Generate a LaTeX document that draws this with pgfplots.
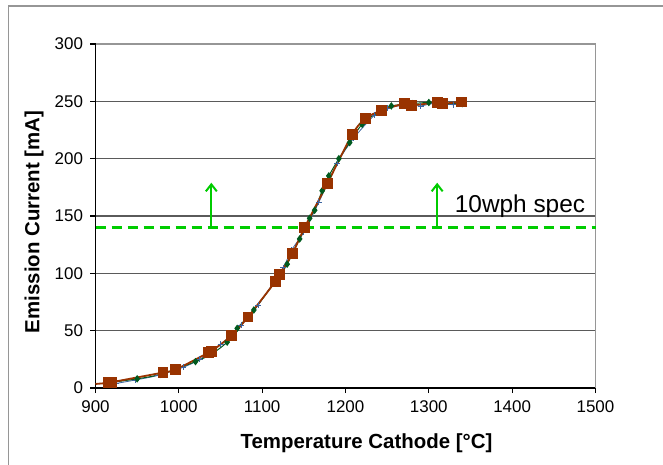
\documentclass[border=0pt]{standalone}
\usepackage{fontspec}
\setmainfont{Liberation Sans}
\usepackage{pgfplots}
\pgfplotsset{compat=1.18}
\usetikzlibrary{arrows.meta,calc}

\definecolor{brownline}{RGB}{153,51,0}
\definecolor{specgreen}{RGB}{0,204,0}
\definecolor{darkgreen}{RGB}{0,90,30}
\definecolor{steel}{RGB}{60,100,160}
\definecolor{gridgray}{RGB}{90,90,90}
\definecolor{framegray}{RGB}{150,150,150}

\begin{document}
\begin{tikzpicture}
\useasboundingbox (0,0) rectangle (663bp,465bp);
\draw[framegray, line width=1.2bp] (8.5bp,0) -- (8.5bp,459bp) -- (663bp,459bp);

\begin{axis}[
    at={(95.5bp,77bp)}, anchor=south west,
    scale only axis, width=500bp, height=344bp,
    xmin=900, xmax=1500, ymin=0, ymax=300,
    xtick={900,1000,...,1500}, ytick={0,50,...,300},
    axis x line*=bottom, axis y line*=left,
    axis line style={black, line width=1.5bp, -},
    tick align=outside, major tick length=5bp,
    tick style={black, line width=1.2bp},
    ymajorgrids, grid style={gridgray, line width=1.6bp},
    /pgf/number format/assume math mode=true,
    /pgf/number format/1000 sep={},
    ticklabel style={font=\fontsize{17}{20}\selectfont},
    xticklabel style={yshift=-4bp},
    yticklabel style={xshift=-4bp},
    xlabel={\textbf{Temperature Cathode [°C]}},
    xlabel style={font=\fontsize{20.5}{24}\selectfont, at={(axis description cs:0.542,0)}, anchor=center, yshift=-55bp},
    clip=false,
]
\draw[framegray, line width=1.2bp] (axis cs:1500,0) -- (axis cs:1500,300) -- (axis cs:900,300);

\addplot[steel, line width=0.8bp, mark=+, mark size=3bp, smooth] coordinates {
(925,4) (948,7) (975,11) (1005,18) (1025,25) (1050,38) (1075,55) (1095,72)
(1125,105) (1135,120) (1150,136) (1168,162) (1190,196) (1210,218) (1235,238)
(1250,244) (1275,247) (1290,246) (1305,248) (1330,247)
};
\addplot[darkgreen, line width=1bp, mark=diamond*, mark size=3bp, smooth] coordinates {
(920,5) (950,8) (978,12) (1020,23) (1040,30) (1058,40) (1070,52) (1090,68)
(1118,95) (1130,108) (1145,130) (1157,148) (1163,155) (1172,172) (1180,185)
(1192,200) (1205,214) (1220,230) (1240,241) (1255,246) (1280,248) (1300,249)
(1320,248) (1340,248)
};
\addplot[brownline, line width=1.8bp, smooth, forget plot] coordinates {(900,3.5) (916,4.5)};
\addplot[brownline, line width=1.8bp, mark=square*, mark size=4.5bp, smooth] coordinates {
(916,4.5) (919,5) (981,13.5) (996,16) (1036,31) (1039,32) (1063,45.5) (1083,62)
(1116,93) (1121,99) (1136,117) (1151,140) (1178,178) (1208,221) (1224,235)
(1243,242) (1271,248) (1279,246.5) (1310,249) (1316,248) (1339,249.5)
};

\addplot[specgreen, line width=3bp, dash pattern=on 10bp off 6bp] coordinates {(900,140) (1500,140)};
\draw[specgreen, line width=2bp, -{Straight Barb[length=7bp,width=11bp]}] (axis cs:1039,140) -- (axis cs:1039,179);
\draw[specgreen, line width=2bp, -{Straight Barb[length=7bp,width=11bp]}] (axis cs:1310,140) -- (axis cs:1310,179);
\node[anchor=base west, inner sep=0pt, font=\fontsize{24.5}{28}\selectfont] at (axis cs:1331,152.8) {10wph spec};
\end{axis}
\node[rotate=90, anchor=center, inner sep=0pt, font=\fontsize{20.5}{24}\selectfont\bfseries]
  at ($(current axis.south west)!0.483!(current axis.north west)+(-61.5bp,0)$) {Emission Current [mA]};
\end{tikzpicture}
\end{document}
